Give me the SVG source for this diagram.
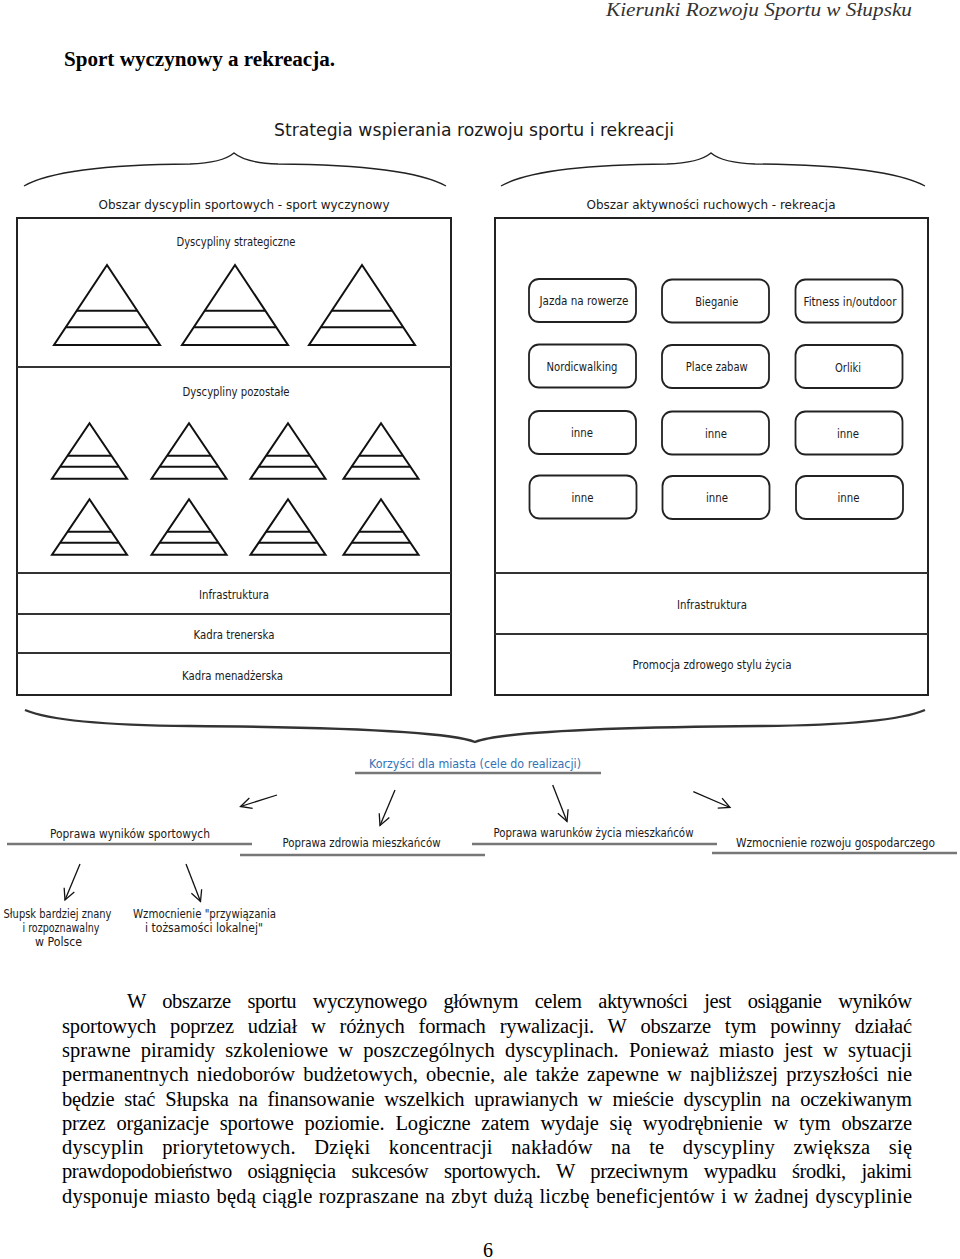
<svg xmlns="http://www.w3.org/2000/svg" xmlns:xlink="http://www.w3.org/1999/xlink" width="960" height="1259" viewBox="0 0 960 1259">
<style>
.lbl{font-family:"DejaVu Sans Condensed","DejaVu Sans","Liberation Sans",sans-serif;font-size:12px;fill:#1a1a1a;text-anchor:middle}
.s18{font-size:18px}
.s13{font-size:13px}
.s115{font-size:11.5px}
.blue{fill:#3173b5}
.body{font-family:"Liberation Serif","Times New Roman",serif;font-size:20.5px;fill:#000}
.panel{fill:none;stroke:#222;stroke-width:2}
.div{stroke:#333;stroke-width:2}
.pyr{fill:none;stroke:#111;stroke-width:2;stroke-linejoin:miter}
.box{fill:#fff;stroke:#222;stroke-width:1.8}
.brace{fill:none;stroke:#222;stroke-width:1.4}
.ul{stroke:#777;stroke-width:2.5}
.arr{fill:none;stroke:#111;stroke-width:1.3;marker-end:url(#ah)}
</style>
<defs>
<marker id="ah" markerUnits="userSpaceOnUse" markerWidth="14" markerHeight="14" viewBox="0 0 14 14" refX="12" refY="7" orient="auto">
<path d="M1,1.5 L12,7 L1,12.5" fill="none" stroke="#111" stroke-width="1.3"/>
</marker>
<g id="bigPyr">
<path class="pyr" d="M0,0 L53,80 L-53,80 Z"/>
<line class="pyr" x1="-30.3" y1="45.7" x2="30.3" y2="45.7"/>
<line class="pyr" x1="-41.3" y1="62.3" x2="41.3" y2="62.3"/>
</g>
<g id="smPyr">
<path class="pyr" d="M0,0 L37.5,55.5 L-37.5,55.5 Z"/>
<line class="pyr" x1="-21.9" y1="32.4" x2="21.9" y2="32.4"/>
<line class="pyr" x1="-29.3" y1="43.4" x2="29.3" y2="43.4"/>
</g>
</defs>
<rect width="960" height="1259" fill="#fff"/>

<!-- page header -->
<text x="912" y="16" text-anchor="end" font-family="'Liberation Serif',serif" font-style="italic" font-size="19" fill="#333" textLength="306" lengthAdjust="spacingAndGlyphs">Kierunki Rozwoju Sportu w Słupsku</text>
<text x="64" y="66" font-family="'Liberation Serif',serif" font-weight="bold" font-size="20" fill="#000" textLength="271" lengthAdjust="spacingAndGlyphs">Sport wyczynowy a rekreacja.</text>

<g id="title">
<text class="lbl s18" x="474" y="136" textLength="400" lengthAdjust="spacingAndGlyphs">Strategia wspierania rozwoju sportu i rekreacji</text>
</g>

<g id="braces">
<path class="brace" d="M24,186 Q60,165 190,164 Q222,163 234,153 Q246,163 278,164 Q408,165 446,186"/>
<path class="brace" d="M501,186 Q537,165 667,164 Q699,163 711,153 Q723,163 755,164 Q885,165 925,186"/>
<path d="M25,710 Q60,725 190,726 Q440,728 475,742 Q510,728 760,726 Q890,725 925,710" fill="none" stroke="#333" stroke-width="2.4"/>
</g>

<!-- left panel -->
<g id="panel-sport">
<text class="lbl s13" x="244" y="209" textLength="291" lengthAdjust="spacingAndGlyphs">Obszar dyscyplin sportowych - sport wyczynowy</text>
<rect class="panel" x="17" y="218" width="434" height="477"/>
<line class="div" x1="17" y1="367" x2="451" y2="367"/>
<line class="div" x1="17" y1="573" x2="451" y2="573"/>
<line class="div" x1="17" y1="614" x2="451" y2="614"/>
<line class="div" x1="17" y1="653" x2="451" y2="653"/>
<text class="lbl" x="236" y="246" textLength="119" lengthAdjust="spacingAndGlyphs">Dyscypliny strategiczne</text>
<g id="pyr-s1"><use xlink:href="#bigPyr" x="107" y="265"/></g>
<g id="pyr-s2"><use xlink:href="#bigPyr" x="235" y="265"/></g>
<g id="pyr-s3"><use xlink:href="#bigPyr" x="362" y="265"/></g>
<text class="lbl" x="236" y="396" textLength="107" lengthAdjust="spacingAndGlyphs">Dyscypliny pozostałe</text>
<g id="pyr-o1"><use xlink:href="#smPyr" x="89.5" y="423.3"/></g>
<g id="pyr-o2"><use xlink:href="#smPyr" x="189" y="423.3"/></g>
<g id="pyr-o3"><use xlink:href="#smPyr" x="288" y="423.3"/></g>
<g id="pyr-o4"><use xlink:href="#smPyr" x="381" y="423.3"/></g>
<g id="pyr-o5"><use xlink:href="#smPyr" x="89.5" y="499.3"/></g>
<g id="pyr-o6"><use xlink:href="#smPyr" x="189" y="499.3"/></g>
<g id="pyr-o7"><use xlink:href="#smPyr" x="288" y="499.3"/></g>
<g id="pyr-o8"><use xlink:href="#smPyr" x="381" y="499.3"/></g>
<text class="lbl s115" x="234" y="598.5" textLength="70" lengthAdjust="spacingAndGlyphs">Infrastruktura</text>
<text class="lbl s115" x="234" y="639" textLength="81" lengthAdjust="spacingAndGlyphs">Kadra trenerska</text>
<text class="lbl s115" x="232.5" y="680" textLength="101" lengthAdjust="spacingAndGlyphs">Kadra menadżerska</text>
</g>

<!-- right panel -->
<g id="panel-rekreacja">
<text class="lbl s13" x="711" y="209" textLength="249" lengthAdjust="spacingAndGlyphs">Obszar aktywności ruchowych - rekreacja</text>
<rect class="panel" x="495" y="218" width="433" height="477"/>
<line class="div" x1="495" y1="573" x2="928" y2="573"/>
<line class="div" x1="495" y1="634" x2="928" y2="634"/>
<text class="lbl s115" x="712" y="609" textLength="70" lengthAdjust="spacingAndGlyphs">Infrastruktura</text>
<text class="lbl s115" x="712" y="669" textLength="159" lengthAdjust="spacingAndGlyphs">Promocja zdrowego stylu życia</text>
</g>

<g id="box-rower"><rect class="box" x="529" y="279" width="107" height="43" rx="10"/><text class="lbl" x="584" y="305" textLength="89" lengthAdjust="spacingAndGlyphs">Jazda na rowerze</text></g>
<g id="box-bieganie"><rect class="box" x="662" y="279.5" width="107" height="43" rx="10"/><text class="lbl" x="716.8" y="306" textLength="43" lengthAdjust="spacingAndGlyphs">Bieganie</text></g>
<g id="box-fitness"><rect class="box" x="795.5" y="279.5" width="107" height="43" rx="10"/><text class="lbl" x="850" y="306" textLength="93" lengthAdjust="spacingAndGlyphs">Fitness in/outdoor</text></g>
<g id="box-nordic"><rect class="box" x="529" y="344.5" width="107" height="43" rx="10"/><text class="lbl" x="582" y="371" textLength="71" lengthAdjust="spacingAndGlyphs">Nordicwalking</text></g>
<g id="box-place"><rect class="box" x="662" y="345" width="107" height="43" rx="10"/><text class="lbl" x="716.8" y="371" textLength="62" lengthAdjust="spacingAndGlyphs">Place zabaw</text></g>
<g id="box-orliki"><rect class="box" x="795.5" y="345" width="107" height="43" rx="10"/><text class="lbl" x="848" y="371.5" textLength="26" lengthAdjust="spacingAndGlyphs">Orliki</text></g>
<g id="box-inne1"><rect class="box" x="529" y="411" width="107" height="43" rx="10"/><text class="lbl" x="582" y="437" textLength="22" lengthAdjust="spacingAndGlyphs">inne</text></g>
<g id="box-inne2"><rect class="box" x="662" y="411.5" width="107" height="43" rx="10"/><text class="lbl" x="716" y="437.5" textLength="22" lengthAdjust="spacingAndGlyphs">inne</text></g>
<g id="box-inne3"><rect class="box" x="795.5" y="411.5" width="107" height="43" rx="10"/><text class="lbl" x="848" y="437.5" textLength="22" lengthAdjust="spacingAndGlyphs">inne</text></g>
<g id="box-inne4"><rect class="box" x="529.5" y="475.5" width="107" height="43" rx="10"/><text class="lbl" x="582.5" y="501.5" textLength="22" lengthAdjust="spacingAndGlyphs">inne</text></g>
<g id="box-inne5"><rect class="box" x="662.5" y="476" width="107" height="43" rx="10"/><text class="lbl" x="717" y="502" textLength="22" lengthAdjust="spacingAndGlyphs">inne</text></g>
<g id="box-inne6"><rect class="box" x="796" y="476" width="107" height="43" rx="10"/><text class="lbl" x="848.5" y="502" textLength="22" lengthAdjust="spacingAndGlyphs">inne</text></g>

<!-- benefits -->
<g id="korzysci">
<text class="lbl s115 blue" x="475" y="768" textLength="212" lengthAdjust="spacingAndGlyphs">Korzyści dla miasta (cele do realizacji)</text>
<line class="ul" x1="355" y1="773" x2="601" y2="773"/>
</g>
<g id="cel-wyniki">
<text class="lbl" x="130" y="837.5" textLength="160" lengthAdjust="spacingAndGlyphs">Poprawa wyników sportowych</text>
<line class="ul" x1="7" y1="844" x2="252" y2="844"/>
</g>
<g id="cel-zdrowie">
<text class="lbl" x="361.5" y="847" textLength="158" lengthAdjust="spacingAndGlyphs">Poprawa zdrowia mieszkańców</text>
<line class="ul" x1="240" y1="855" x2="485" y2="855"/>
</g>
<g id="cel-warunki">
<text class="lbl" x="593.5" y="837" textLength="200" lengthAdjust="spacingAndGlyphs">Poprawa warunków życia mieszkańców</text>
<line class="ul" x1="472" y1="844" x2="717" y2="844"/>
</g>
<g id="cel-gosp">
<text class="lbl" x="835.5" y="847" textLength="199" lengthAdjust="spacingAndGlyphs">Wzmocnienie rozwoju gospodarczego</text>
<line class="ul" x1="712" y1="853" x2="957" y2="853"/>
</g>
<g id="efekt-znany">
<text class="lbl" x="57.5" y="917.5" textLength="108" lengthAdjust="spacingAndGlyphs">Słupsk bardziej znany</text>
<text class="lbl" x="61" y="932" textLength="77" lengthAdjust="spacingAndGlyphs">i rozpoznawalny</text>
<text class="lbl" x="58.5" y="946" textLength="47" lengthAdjust="spacingAndGlyphs">w Polsce</text>
</g>
<g id="efekt-tozsamosc">
<text class="lbl" x="204.5" y="917.5" textLength="143" lengthAdjust="spacingAndGlyphs">Wzmocnienie "przywiązania</text>
<text class="lbl" x="204" y="932" textLength="118" lengthAdjust="spacingAndGlyphs">i tożsamości lokalnej"</text>
</g>

<g id="connectors">
<line class="arr" x1="277" y1="795" x2="240.5" y2="806.5"/>
<line class="arr" x1="395" y1="790" x2="380" y2="825.5"/>
<line class="arr" x1="552.7" y1="785" x2="567" y2="821.5"/>
<line class="arr" x1="693.3" y1="791.7" x2="730" y2="807.5"/>
<line class="arr" x1="80" y1="864" x2="65" y2="900"/>
<line class="arr" x1="186" y1="864" x2="200.5" y2="901.5"/>
</g>

<!-- paragraph -->
<g id="paragraph">
<text class="body" x="127" y="1008.3" word-spacing="12" textLength="785" lengthAdjust="spacing">W obszarze sportu wyczynowego głównym celem aktywności jest osiąganie wyników</text>
<text class="body" x="62" y="1032.6" word-spacing="9" textLength="850" lengthAdjust="spacing">sportowych poprzez udział w różnych formach rywalizacji. W obszarze tym powinny działać</text>
<text class="body" x="62" y="1056.9" word-spacing="5" textLength="850" lengthAdjust="spacing">sprawne piramidy szkoleniowe w poszczególnych dyscyplinach. Ponieważ miasto jest w sytuacji</text>
<text class="body" x="62" y="1081.2" word-spacing="3" textLength="850" lengthAdjust="spacing">permanentnych niedoborów budżetowych, obecnie, ale także zapewne w najbliższej przyszłości nie</text>
<text class="body" x="62" y="1105.5" word-spacing="5" textLength="850" lengthAdjust="spacing">będzie stać Słupska na finansowanie wszelkich uprawianych w mieście dyscyplin na oczekiwanym</text>
<text class="body" x="62" y="1129.8" word-spacing="6" textLength="850" lengthAdjust="spacing">przez organizacje sportowe poziomie. Logiczne zatem wydaje się wyodrębnienie w tym obszarze</text>
<text class="body" x="62" y="1154.1" word-spacing="13" textLength="850" lengthAdjust="spacing">dyscyplin priorytetowych. Dzięki koncentracji nakładów na te dyscypliny zwiększa się</text>
<text class="body" x="62" y="1178.4" word-spacing="11" textLength="850" lengthAdjust="spacing">prawdopodobieństwo osiągnięcia sukcesów sportowych. W przeciwnym wypadku środki, jakimi</text>
<text class="body" x="62" y="1202.7" word-spacing="1" textLength="850" lengthAdjust="spacing">dysponuje miasto będą ciągle rozpraszane na zbyt dużą liczbę beneficjentów i w żadnej dyscyplinie</text>
</g>
<text x="488" y="1257" text-anchor="middle" font-family="'Liberation Serif',serif" font-size="20" fill="#000">6</text>
</svg>
